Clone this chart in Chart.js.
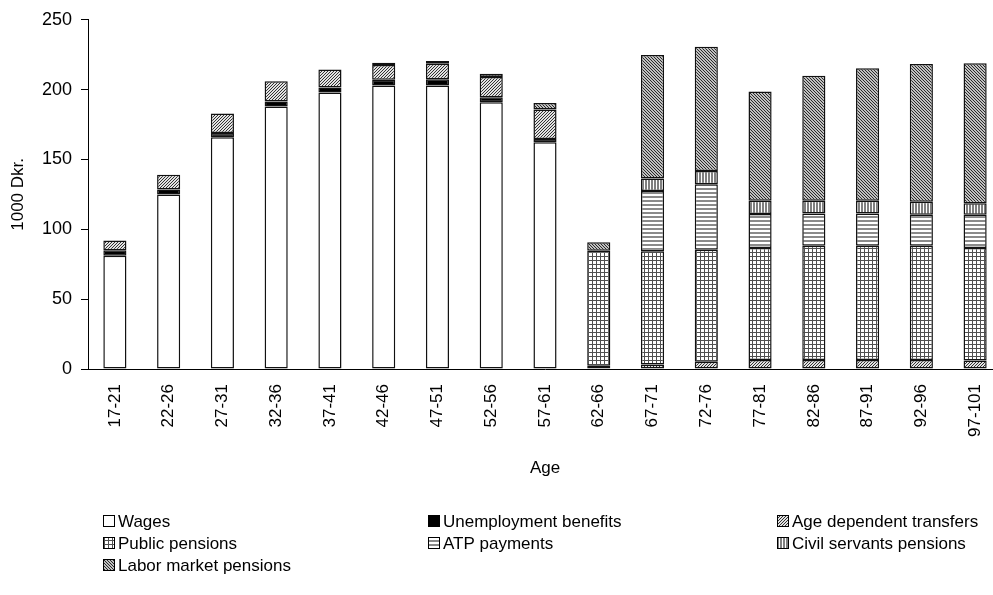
<!DOCTYPE html>
<html>
<head>
<meta charset="utf-8">
<script src="https://cdn.jsdelivr.net/npm/chart.js@4"></script>
<style>
  html, body { margin: 0; padding: 0; background: #fff; overflow: hidden; }
  #wrap { position: relative; width: 1010px; height: 595px; }
</style>
</head>
<body>
<div id="wrap"><canvas id="myChart" width="1010" height="595"></canvas></div>
<script>
// categories
const ageGroups = ['17-21', '22-26', '27-31', '32-36', '37-41', '42-46', '47-51', '52-56', '57-61',
  '62-66', '67-71', '72-76', '77-81', '82-86', '87-91', '92-96', '97-101'];

// series values (1000 Dkr.)
const wages        = [81, 125, 166, 188, 198, 203, 203, 191, 162.4, 0, 0, 0, 0, 0, 0, 0, 0];
const unemployment = [4, 3.5, 3, 3.5, 3.5, 4, 4.5, 3.5, 2.3, 0, 0, 0, 0, 0, 0, 0, 0];
const ageDependent = [7, 10.5, 14, 14.5, 13, 10.7, 11, 14.5, 21, 2.3, 3.3, 5.2, 6.4, 6.4, 6.4, 6.4, 6];
const publicPens   = [0, 0, 0, 0, 0, 0, 0, 0, 0, 82.4, 81, 80.1, 80.3, 81.9, 81.9, 81.9, 80.7];
const atpPayments  = [0, 0, 0, 0, 0, 0, 0, 0, 0, 0, 43.2, 47, 24.2, 23, 23, 22.1, 23.7];
const civilPens    = [0, 0, 0, 0, 0, 0, 0, 0, 0, 0, 8.8, 9.4, 9.5, 9.1, 9.1, 9.3, 8.3];
const laborPens    = [0, 0, 0, 0, 0, 1.5, 2, 2.4, 4.7, 6, 88.5, 89, 78.3, 89.5, 94.9, 98.7, 100.2];

const yTicks = [0, 50, 100, 150, 200, 250];

// fill patterns like the old spreadsheet hatches
function makePattern(size, bg, draw) {
  const c = document.createElement('canvas');
  c.width = size; c.height = size;
  const g = c.getContext('2d');
  g.fillStyle = bg;
  g.fillRect(0, 0, size, size);
  draw(g);
  return g.createPattern(c, 'repeat');
}

const fills = {
  wages: '#ffffff',
  unemployment: '#000000',
  ageDependent: makePattern(3, '#e2e2e2', g => {
    g.fillStyle = '#333333';
    g.fillRect(2, 0, 1, 1); g.fillRect(1, 1, 1, 1); g.fillRect(0, 2, 1, 1);
  }),
  publicPens: makePattern(4, '#ffffff', g => {
    g.fillStyle = '#505050';
    g.fillRect(0, 0, 4, 1);
    g.fillRect(0, 0, 1, 4);
  }),
  atp: makePattern(4, '#ffffff', g => {
    g.fillStyle = '#8a8a8a';
    g.fillRect(0, 0, 4, 2);
  }),
  civil: makePattern(3, '#ffffff', g => {
    g.fillStyle = '#7f7f7f';
    g.fillRect(0, 0, 2, 3);
  }),
  labor: makePattern(3, '#c0c0c0', g => {
    g.fillStyle = '#2a2a2a';
    g.fillRect(0, 0, 1, 1); g.fillRect(1, 1, 1, 1); g.fillRect(2, 2, 1, 1);
  })
};

const seriesList = [
  { label: 'Wages', data: wages, fill: fills.wages },
  { label: 'Unemployment benefits', data: unemployment, fill: fills.unemployment },
  { label: 'Age dependent transfers', data: ageDependent, fill: fills.ageDependent },
  { label: 'Public pensions', data: publicPens, fill: fills.publicPens },
  { label: 'ATP payments', data: atpPayments, fill: fills.atp },
  { label: 'Civil servants pensions', data: civilPens, fill: fills.civil },
  { label: 'Labor market pensions', data: laborPens, fill: fills.labor }
];

const FONT = 'Liberation Sans, Arial, sans-serif';
Chart.defaults.font.family = FONT;
Chart.defaults.color = '#000';

// legend in three columns, drawn on the canvas
const gridLegend = {
  id: 'gridLegend',
  afterDraw(chart) {
    const ctx = chart.ctx;
    const colX = [103, 428, 777];
    const rowY = [521, 543, 565];
    ctx.save();
    ctx.font = '17px ' + FONT;
    ctx.textBaseline = 'middle';
    chart.data.datasets.forEach((ds, i) => {
      const x = colX[i % 3];
      const y = rowY[Math.floor(i / 3)];
      ctx.fillStyle = ds.backgroundColor;
      ctx.fillRect(x, y - 6, 12, 12);
      ctx.strokeStyle = '#000';
      ctx.lineWidth = 1;
      ctx.strokeRect(x + 0.5, y - 5.5, 11, 11);
      ctx.fillStyle = '#000';
      ctx.fillText(ds.label, x + 15, y + 1);
    });
    ctx.restore();
  }
};

new Chart(document.getElementById('myChart'), {
  type: 'bar',
  data: {
    labels: ageGroups,
    datasets: seriesList.map(s => ({
      label: s.label,
      data: s.data.map(v => (v === 0 ? null : v)),
      backgroundColor: s.fill,
      borderColor: '#111',
      borderWidth: 1.5,
      borderSkipped: false,
      barPercentage: 0.43,
      categoryPercentage: 1.0
    }))
  },
  options: {
    responsive: false,
    animation: false,
    layout: { padding: { left: 0, top: 18, right: 8, bottom: 116 } },
    plugins: {
      legend: { display: false },
      tooltip: { enabled: false }
    },
    scales: {
      x: {
        stacked: true,
        grid: { display: false },
        border: { color: '#000', width: 1 },
        ticks: { color: '#000', font: { size: 17 }, maxRotation: 90, minRotation: 90, padding: 7, autoSkip: false },
        title: { display: true, text: 'Age', color: '#000', font: { size: 17 }, padding: 0 },
        afterFit: s => { s.height = 110; }
      },
      y: {
        stacked: true,
        min: 0,
        max: 250,
        afterBuildTicks: s => { s.ticks = yTicks.map(v => ({ value: v })); },
        ticks: { color: '#000', font: { size: 18 }, padding: 9 },
        grid: { drawOnChartArea: false, drawTicks: true, tickLength: 7, color: '#000' },
        border: { color: '#000', width: 1 },
        title: { display: true, text: '1000 Dkr.', color: '#000', font: { size: 17 }, padding: { top: 8, bottom: 0 } },
        afterFit: s => { s.width = 88; }
      }
    }
  },
  plugins: [gridLegend]
});
</script>
</body>
</html>
